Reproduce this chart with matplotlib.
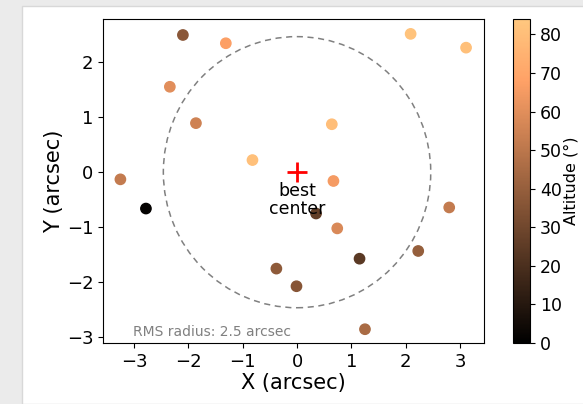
"""
Star offsets around the best-fit center, coloured by altitude.
"""

import numpy as np
import matplotlib
matplotlib.use("Agg")
import matplotlib.pyplot as plt
from matplotlib.patches import Circle, Rectangle

# offsets of each star (arcsec) and altitude (deg)
x_off = [-2.10, -1.31, 2.09, 3.11, -2.34, -1.86, 0.64, -0.82, -3.25, 0.67,
         -2.78, 0.35, 0.74, 2.80, 2.23, 1.15, -0.38, -0.01, 1.25]
y_off = [2.49, 2.34, 2.51, 2.26, 1.55, 0.89, 0.87, 0.22, -0.13, -0.16,
         -0.66, -0.75, -1.02, -0.64, -1.43, -1.57, -1.75, -2.07, -2.85]
altitude = [37, 67, 82, 81, 60, 55, 80, 81, 52, 65,
            1, 26, 58, 52, 40, 24, 38, 36, 45]
alt_range = [0, 84]

best_center = [0.0, 0.0]
rms_radius = 2.46

fig = plt.figure(figsize=(5.83, 4.04), dpi=100, facecolor="#ebebeb")
# white figure area inside the screenshot frame
fig.patches.append(Rectangle((22 / 583, 0), 1, (404 - 6) / 404,
                             transform=fig.transFigure, facecolor="white",
                             edgecolor="#d8d8d8", lw=1, zorder=-10))

ax = fig.add_axes([103 / 583, 61 / 404, 381 / 583, 324 / 404])
cax = fig.add_axes([513 / 583, 61 / 404, 17 / 583, 324 / 404])

sc = ax.scatter(x_off, y_off, c=altitude, cmap="copper", s=55,
                vmin=alt_range[0], vmax=alt_range[1], zorder=3)

circ = Circle(best_center, rms_radius, fill=False, ls=(0, (4, 3)),
              color="gray", lw=1.1)
ax.add_patch(circ)

ax.plot(best_center[0], best_center[1], "+", color="red", ms=15, mew=2, zorder=4)
ax.text(best_center[0], best_center[1] - 0.17, "best\ncenter", ha="center",
        va="top", fontsize=12.5, linespacing=1.0, zorder=5)
ax.text(0.08, 0.012, f"RMS radius: {rms_radius:.1f} arcsec", transform=ax.transAxes,
        fontsize=10, color="gray", va="bottom")

ax.set_xlim(-3.57, 3.44)
ax.set_ylim(-3.1, 2.78)
ax.set_xticks(np.arange(-3, 4))
ax.set_yticks(np.arange(-3, 3))
ax.tick_params(labelsize=13)
ax.set_xlabel("X (arcsec)", fontsize=15, labelpad=2)
ax.set_ylabel("Y (arcsec)", fontsize=15, labelpad=2)

cb = fig.colorbar(sc, cax=cax)
cb.set_ticks(np.arange(0, 81, 10))
cb.ax.tick_params(labelsize=12.5)
cb.set_label("Altitude (°)", fontsize=11.5, labelpad=1)

fig.savefig("out.png", dpi=100, facecolor=fig.get_facecolor())
